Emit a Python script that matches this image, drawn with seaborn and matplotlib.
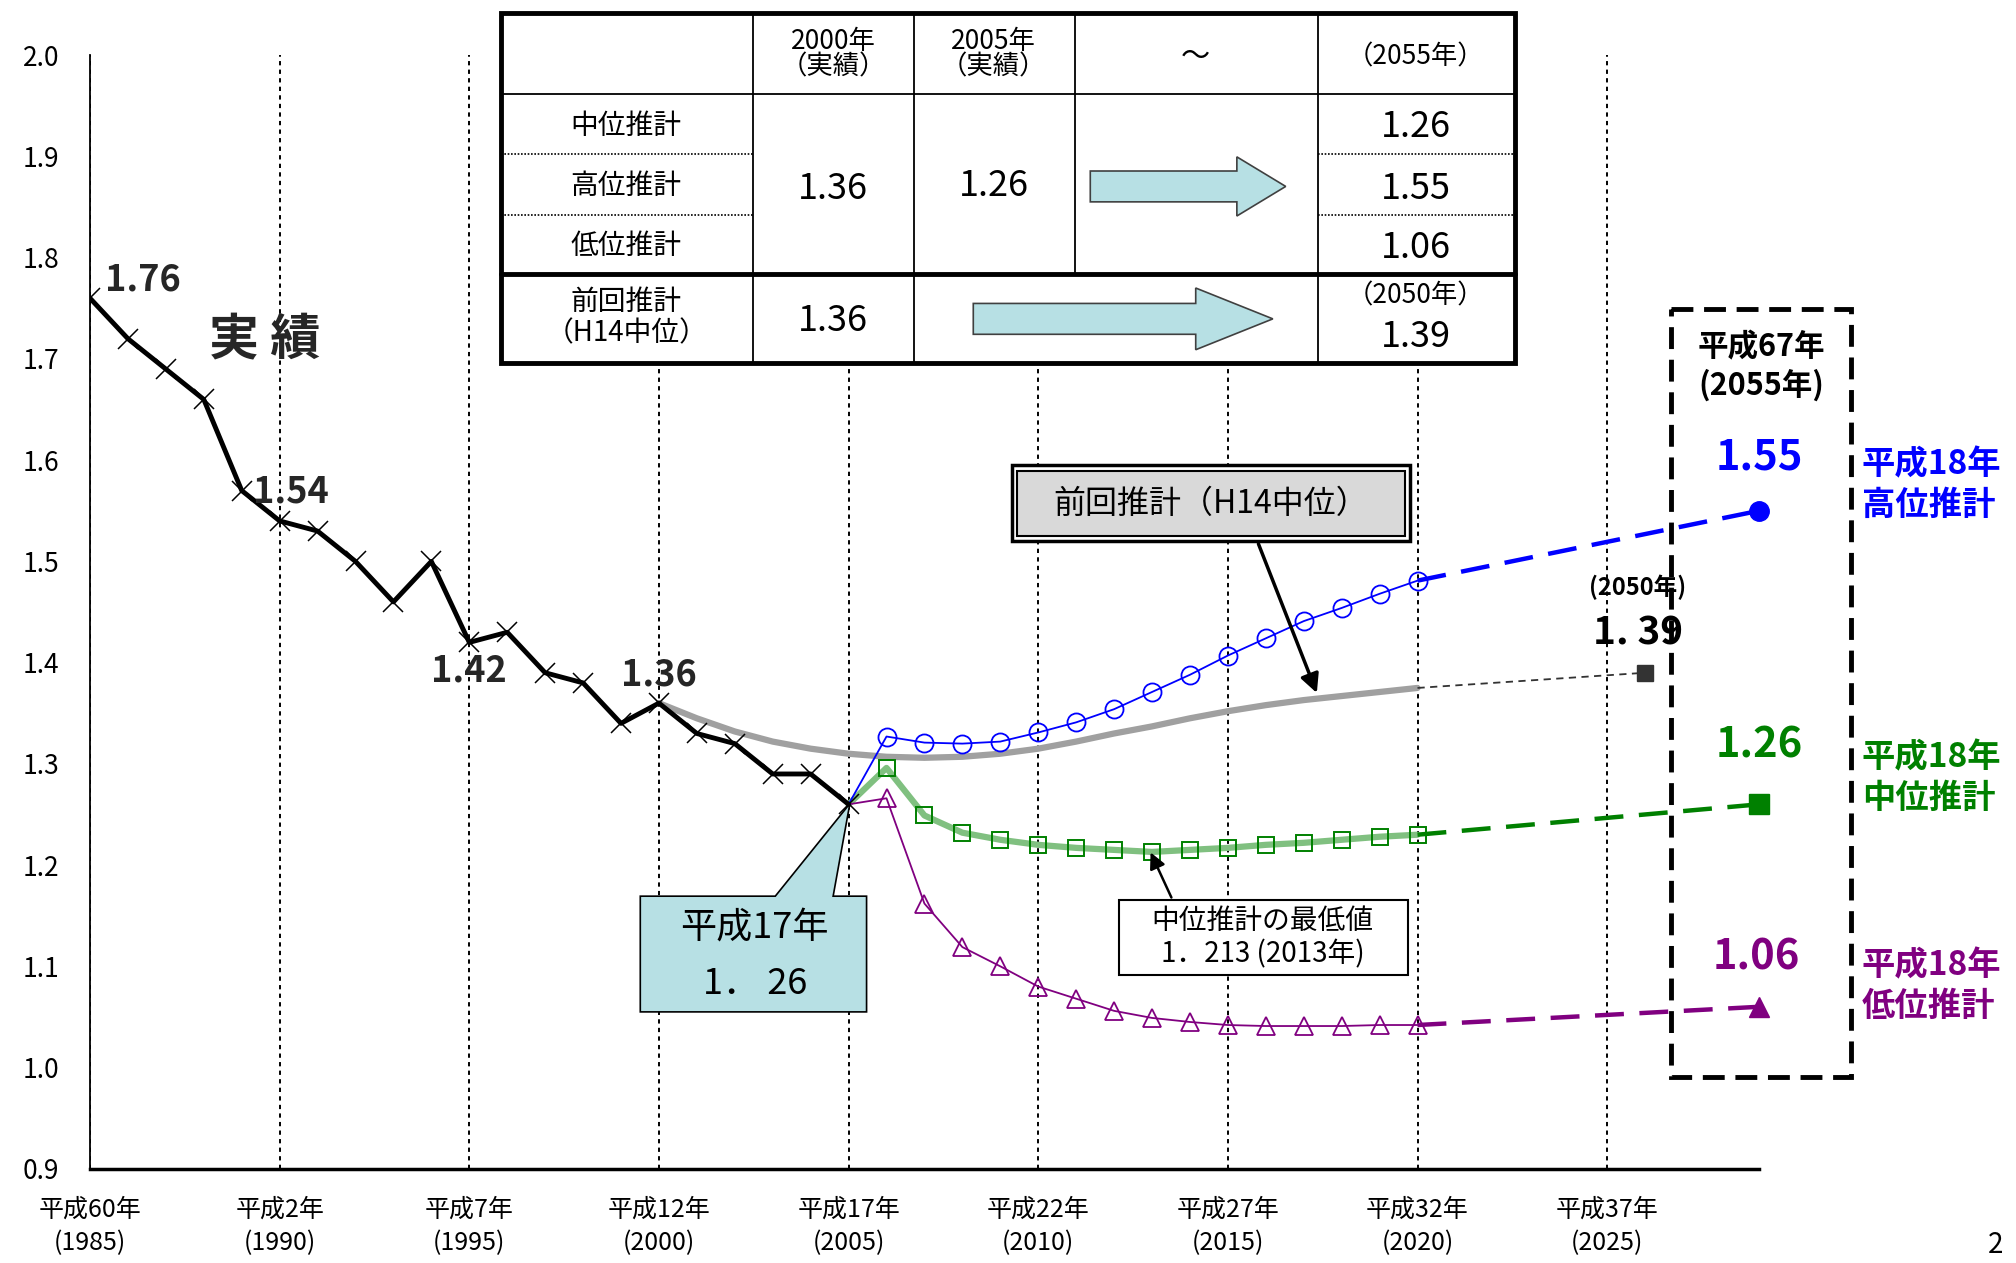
import matplotlib
matplotlib.use('Agg')
import matplotlib.pyplot as plt
import seaborn as sns
import pandas as pd
from matplotlib.patches import Polygon, Rectangle

# ---- data ----
actual_years = list(range(1985, 2006))
actual_tfr = [1.76, 1.72, 1.69, 1.66, 1.57, 1.54, 1.53, 1.50, 1.46, 1.50, 1.42,
              1.43, 1.39, 1.38, 1.34, 1.36, 1.33, 1.32, 1.29, 1.29, 1.26]

proj_years = list(range(2005, 2021))
high_tfr = [1.26, 1.327, 1.321, 1.320, 1.322, 1.331, 1.341, 1.354, 1.371, 1.388,
            1.407, 1.424, 1.441, 1.454, 1.468, 1.481]
mid_tfr = [1.26, 1.296, 1.249, 1.232, 1.225, 1.220, 1.217, 1.215, 1.213, 1.215,
           1.217, 1.220, 1.222, 1.225, 1.228, 1.230]
low_tfr = [1.26, 1.266, 1.162, 1.119, 1.100, 1.080, 1.068, 1.056, 1.049, 1.045,
           1.042, 1.041, 1.041, 1.041, 1.042, 1.042]

prev_years = list(range(2000, 2021))
prev_tfr = [1.36, 1.345, 1.332, 1.322, 1.315, 1.310, 1.307, 1.306, 1.307, 1.310,
            1.315, 1.322, 1.330, 1.337, 1.345, 1.352, 1.358, 1.363, 1.367, 1.371, 1.375]

prev_2050 = 1.39
high_2055 = 1.55
mid_2055 = 1.26
low_2055 = 1.06

x_ticks = [1985, 1990, 1995, 2000, 2005, 2010, 2015, 2020, 2025]
x_labels = ['平成60年\n(1985)', '平成2年\n(1990)', '平成7年\n(1995)', '平成12年\n(2000)',
            '平成17年\n(2005)', '平成22年\n(2010)', '平成27年\n(2015)', '平成32年\n(2020)',
            '平成37年\n(2025)']
y_ticks = [0.9, 1.0, 1.1, 1.2, 1.3, 1.4, 1.5, 1.6, 1.7, 1.8, 1.9, 2.0]

# compressed horizontal positions used for the far-future points
x_2050 = 2026.0
x_2055 = 2029.0

# ---- style ----
sns.set_style('white')
plt.rcParams['font.family'] = ['Noto Sans CJK JP', 'DejaVu Sans']

W, H = 1568, 982.3
fig = plt.figure(figsize=(20.16, 12.63), dpi=100)
ax = fig.add_axes([70 / W, 1 - 909 / H, 1298 / W, 866 / H])

BLUE = '#0000ff'
GREEN = '#008000'
LGREEN = '#80c080'
PURPLE = '#800080'
GRAY = '#a0a0a0'

df_act = pd.DataFrame({'year': actual_years, 'tfr': actual_tfr})
df_proj = pd.DataFrame({'year': proj_years, 'high': high_tfr, 'mid': mid_tfr, 'low': low_tfr})
df_prev = pd.DataFrame({'year': prev_years, 'tfr': prev_tfr})

# previous projection (H14)
sns.lineplot(data=df_prev, x='year', y='tfr', ax=ax, color=GRAY, lw=4.5, zorder=2)
ax.plot([prev_years[-1], x_2050], [prev_tfr[-1], prev_2050], color='#333333',
        lw=1.3, ls=(0, (4, 3)), zorder=2)
ax.plot([x_2050], [prev_2050], marker='s', ms=12, color='#333333', clip_on=False, zorder=4)

# medium projection
sns.lineplot(data=df_proj, x='year', y='mid', ax=ax, color=LGREEN, lw=4.5, zorder=3)
ax.plot(proj_years[1:], mid_tfr[1:], ls='none', marker='s', ms=12, mfc='none',
        mec=GREEN, mew=1.4, zorder=4)
# high projection
sns.lineplot(data=df_proj, x='year', y='high', ax=ax, color=BLUE, lw=1.3,
             marker='o', ms=13, mfc='none', mec=BLUE, mew=1.3,
             markevery=list(range(1, len(proj_years))), zorder=4)
# low projection
sns.lineplot(data=df_proj, x='year', y='low', ax=ax, color=PURPLE, lw=1.3,
             marker='^', ms=13, mfc='none', mec=PURPLE, mew=1.3,
             markevery=list(range(1, len(proj_years))), zorder=4)

# dashed extensions to 2055
for vals, end, col, mk in [(high_tfr, high_2055, BLUE, 'o'),
                           (mid_tfr, mid_2055, GREEN, 's'),
                           (low_tfr, low_2055, PURPLE, '^')]:
    ax.plot([proj_years[-1], x_2055], [vals[-1], end], color=col, lw=3.2,
            ls=(0, (6.5, 3.5)), clip_on=False, zorder=3)
    ax.plot([x_2055], [end], marker=mk, ms=14, color=col, clip_on=False, zorder=5)

# actual values
sns.lineplot(data=df_act, x='year', y='tfr', ax=ax, color='black', lw=3.5,
             marker='x', ms=15, mew=1.1, mec='black', zorder=5)

ax.set_xlim(1985, 2029)
ax.set_ylim(0.9, 2.0)
ax.set_xticks(x_ticks)
ax.set_xticklabels(x_labels, fontsize=18, linespacing=1.4)
ax.set_yticks(y_ticks)
ax.set_yticklabels([f'{v:.1f}' for v in y_ticks], fontsize=19)
ax.tick_params(axis='y', direction='in', length=8, width=1.2, pad=22, colors='black')
ax.tick_params(axis='x', length=0, pad=20, colors='black')
ax.set_xlabel('')
ax.set_ylabel('')
ax.xaxis.grid(True, color='black', lw=1.4, ls=(0, (2.2, 2.2)))
ax.yaxis.grid(False)
for s in ['top', 'right']:
    ax.spines[s].set_visible(False)
ax.spines['left'].set_color('black')
ax.spines['left'].set_linewidth(1.3)
ax.spines['bottom'].set_color('black')
ax.spines['bottom'].set_linewidth(2.5)

# labels on the actual series
ax.text(1985.4, 1.778, '1.76', fontsize=26, fontweight='bold', ha='left', va='center', zorder=6)
ax.text(1989.6, 1.718, '実 績', fontsize=36, fontweight='bold', ha='center', va='center', zorder=6)
ax.text(1989.3, 1.55, '1.54', fontsize=26, fontweight='bold', ha='left', va='bottom', zorder=6)
ax.text(1995.0, 1.41, '1.42', fontsize=26, fontweight='bold', ha='center', va='top', zorder=6)
ax.text(2000.0, 1.37, '1.36', fontsize=26, fontweight='bold', ha='center', va='bottom', zorder=6)

# ---- overlay in pixel coordinates of the picture ----
ov = fig.add_axes([0, 0, 1, 1], zorder=10)
ov.set_xlim(0, W)
ov.set_ylim(H, 0)
ov.axis('off')
ov.patch.set_visible(False)

# table
tx0, tx1, ty0, ty1 = 390, 1178, 10, 282
cols = [390, 586, 711, 836, 1025, 1178]
ov.add_patch(Rectangle((tx0, ty0), tx1 - tx0, ty1 - ty0, fc='white', ec='black', lw=3.5))
ov.plot([tx0, tx1], [73, 73], color='black', lw=1.3)
ov.plot([tx0, tx1], [213, 213], color='black', lw=3.5)
for c in cols[1:-1]:
    y_end = 213 if c == 836 else ty1
    ov.plot([c, c], [ty0, y_end], color='black', lw=1.3)
for yy in [120, 167]:
    ov.plot([tx0, 586], [yy, yy], color='black', lw=1.2, ls=(0, (1, 1)))
    ov.plot([1025, tx1], [yy, yy], color='black', lw=1.2, ls=(0, (1, 1)))

tkw = dict(ha='center', va='center', color='black')
ov.text(648, 42, '2000年\n（実績）', fontsize=19, linespacing=0.95, **tkw)
ov.text(773, 42, '2005年\n（実績）', fontsize=19, linespacing=0.95, **tkw)
ov.text(930, 44, '～', fontsize=21, **tkw)
ov.text(1101, 44, '（2055年）', fontsize=19, **tkw)
ov.text(487, 98, '中位推計', fontsize=20, **tkw)
ov.text(487, 145, '高位推計', fontsize=20, **tkw)
ov.text(487, 191, '低位推計', fontsize=20, **tkw)
ov.text(648, 147, '1.36', fontsize=26, **tkw)
ov.text(773, 145, '1.26', fontsize=26, **tkw)
ov.text(1101, 99, '1.26', fontsize=26, **tkw)
ov.text(1101, 147, '1.55', fontsize=26, **tkw)
ov.text(1101, 193, '1.06', fontsize=26, **tkw)
ov.text(487, 247, '前回推計\n（H14中位）', fontsize=20, linespacing=1.05, **tkw)
ov.text(648, 250, '1.36', fontsize=26, **tkw)
ov.text(1101, 230, '（2050年）', fontsize=19, **tkw)
ov.text(1101, 262, '1.39', fontsize=26, **tkw)

ARROW = '#b7e0e4'
ov.add_patch(Polygon([(848, 133), (962, 133), (962, 122), (1000, 145), (962, 168),
                      (962, 157), (848, 157)], closed=True, fc=ARROW, ec='#404040', lw=1.2))
ov.add_patch(Polygon([(757, 236), (930, 236), (930, 224), (990, 248), (930, 272),
                      (930, 260), (757, 260)], closed=True, fc=ARROW, ec='#404040', lw=1.2))

# callout for 2005 value
ov.add_patch(Polygon([(498, 697), (603, 697), (661, 625), (648, 697), (674, 697),
                      (674, 787), (498, 787)], closed=True, fc=ARROW, ec='black', lw=1.2))
ov.text(587, 722, '平成17年', fontsize=26, **tkw)
ov.text(587, 765, '1． 26', fontsize=26, **tkw)

# previous projection label box (double border)
ov.add_patch(Rectangle((787, 362), 310, 59, fc='white', ec='black', lw=2.5))
ov.add_patch(Rectangle((791, 366), 302, 51, fc='#d9d9d9', ec='black', lw=1.5))
ov.text(942, 392, '前回推計（H14中位）', fontsize=23, **tkw)
ov.annotate('', xy=(1025, 541), xytext=(978, 421),
            arrowprops=dict(arrowstyle='-|>', color='black', lw=2.5, mutation_scale=28))

# minimum value box
ov.add_patch(Rectangle((870, 700), 225, 58, fc='white', ec='black', lw=1.5))
ov.text(982, 716, '中位推計の最低値', fontsize=20, **tkw)
ov.text(982, 742, '1．213 (2013年)', fontsize=20, **tkw)
ov.annotate('', xy=(894, 661), xytext=(912, 700),
            arrowprops=dict(arrowstyle='-|>', color='black', lw=1.8, mutation_scale=24))

# 2050 label
ov.text(1274, 457, '(2050年)', fontsize=17, fontweight='bold', **tkw)
ov.text(1274, 492, '1. 39', fontsize=28, fontweight='bold', **tkw)

# 2055 dashed box
ov.add_patch(Rectangle((1300, 240), 140, 598, fc='none', ec='black', lw=3.5,
                       ls=(0, (4.5, 2.2))))
ov.text(1370, 285, '平成67年\n(2055年)', fontsize=22, fontweight='bold',
        linespacing=1.25, **tkw)
ov.text(1368, 356, '1.55', fontsize=30, fontweight='bold', ha='center', va='center', color=BLUE)
ov.text(1368, 580, '1.26', fontsize=30, fontweight='bold', ha='center', va='center', color=GREEN)
ov.text(1366, 745, '1.06', fontsize=30, fontweight='bold', ha='center', va='center', color=PURPLE)
ov.text(1448, 377, '平成18年\n高位推計', fontsize=24, fontweight='bold', ha='left',
        va='center', color=BLUE, linespacing=1.3)
ov.text(1448, 605, '平成18年\n中位推計', fontsize=24, fontweight='bold', ha='left',
        va='center', color=GREEN, linespacing=1.3)
ov.text(1448, 767, '平成18年\n低位推計', fontsize=24, fontweight='bold', ha='left',
        va='center', color=PURPLE, linespacing=1.3)

# page number
ov.text(1552, 968, '2', fontsize=20, ha='center', va='center', color='black')

fig.savefig('out.png', dpi=100)
